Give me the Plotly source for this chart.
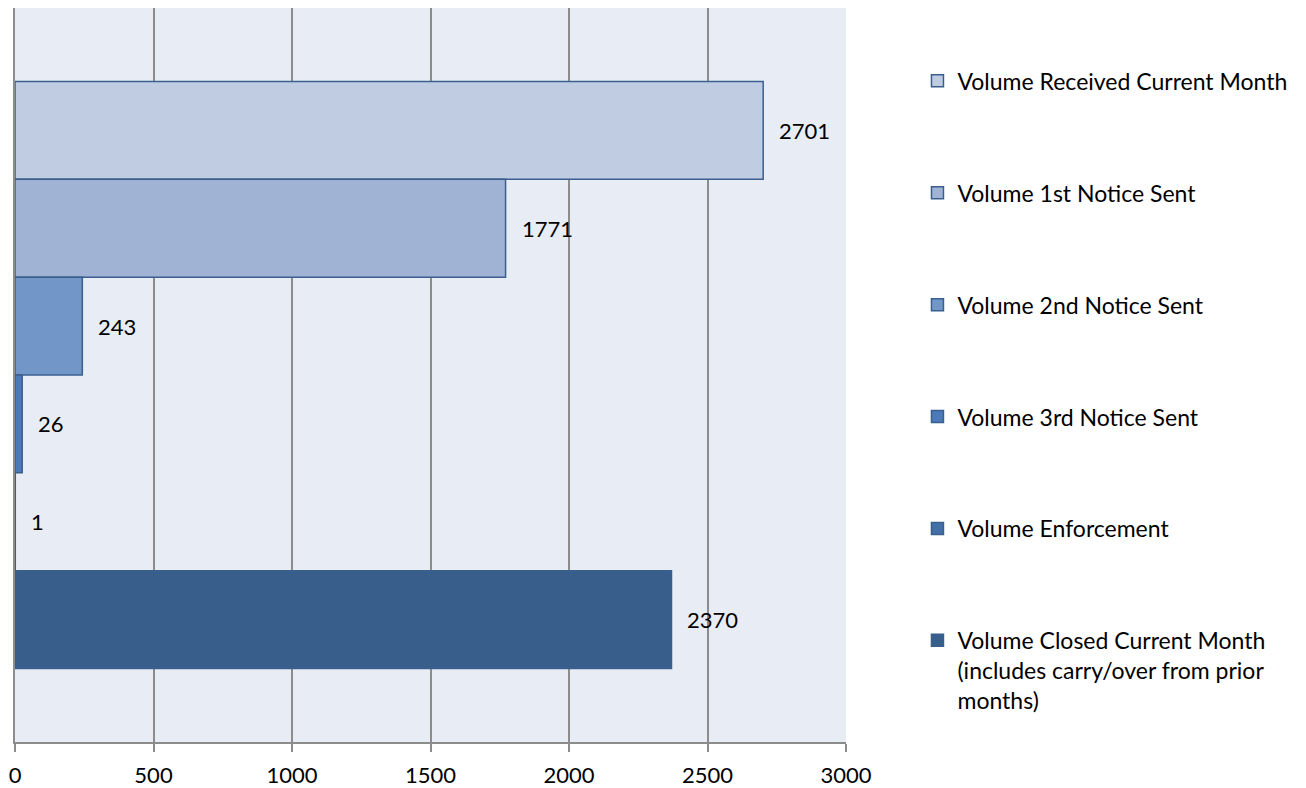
import plotly.graph_objects as go

series_names = [
    "Volume Received Current Month",
    "Volume 1st Notice Sent",
    "Volume 2nd Notice Sent",
    "Volume 3rd Notice Sent",
    "Volume Enforcement",
    "Volume Closed Current Month<br>(includes carry/over from prior<br>months)",
]
series_values = [2701, 1771, 243, 26, 1, 2370]
series_colors = ["#C0CCE1", "#A0B3D5", "#7396C8", "#4C7AB8", "#4470A8", "#385E8B"]
category = ["Volume"]
x_ticks = [0, 500, 1000, 1500, 2000, 2500, 3000]

FONT = "Lato"
GRID = "#8C8C8C"

fig = go.Figure()
for i, (name, val, col) in enumerate(zip(series_names, series_values, series_colors)):
    fig.add_trace(go.Bar(
        x=[val], y=category, orientation="h", name=name,
        marker=dict(color=col, line=dict(color="#3A5F8E", width=1.5)),
        legendgroup=f"g{i}", offsetgroup=str(i),
        hoverinfo="skip",
    ))

n = len(series_values)
width = 0.8 / n
for i, val in enumerate(series_values):
    ycenter = -0.4 + width * (i + 0.5)
    fig.add_annotation(
        x=val, y=ycenter, xref="x", yref="y", text=str(val),
        showarrow=False, xanchor="left", xshift=14,
        font=dict(family=FONT, size=22, color="#000000"),
    )

fig.update_layout(
    width=1306, height=788,
    margin=dict(l=7, r=468, t=0, b=54),
    paper_bgcolor="#FFFFFF",
    plot_bgcolor="#E8ECF4",
    barmode="group", bargap=0.2, bargroupgap=0,
    font=dict(family=FONT, size=22, color="#000000"),
    showlegend=True,
    legend=dict(
        x=1.086, y=0.93, xanchor="left", yanchor="top",
        traceorder="grouped", tracegroupgap=79, valign="top",
        font=dict(family=FONT, size=23, color="#000000"),
        itemwidth=30, bgcolor="rgba(0,0,0,0)",
    ),
)
fig.update_xaxes(
    range=[0, 3000], tickvals=x_ticks, ticktext=[str(t) for t in x_ticks],
    showgrid=True, gridcolor=GRID, gridwidth=2,
    showline=True, linecolor=GRID, linewidth=2,
    ticks="outside", ticklen=8, tickcolor=GRID, tickwidth=2,
    zeroline=False, fixedrange=True, ticklabeloverflow="allow",
    ticklabelstandoff=5, automargin=False,
    tickfont=dict(family=FONT, size=22, color="#000000"),
)
fig.update_yaxes(
    autorange="reversed", showticklabels=False, showgrid=False,
    showline=True, linecolor=GRID, linewidth=2, ticks="", zeroline=False,
    automargin=False,
)
fig.write_html("out.html")
